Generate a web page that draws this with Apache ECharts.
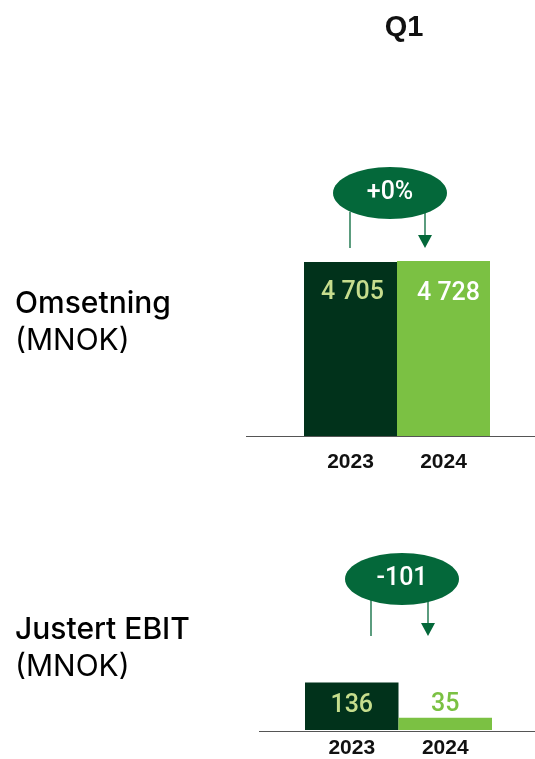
<!DOCTYPE html>
<html><head><meta charset="utf-8">
<script src="https://cdn.jsdelivr.net/npm/echarts@6/dist/echarts.min.js"></script>
<style>html,body{margin:0;padding:0;background:#fff}#c{width:535px;height:759px}</style>
</head><body><div id="c"></div>
<script>
const years = ['2023', '2024'];
const revenue = [4705, 4728];
const revenueLabels = ['4 705', '4 728'];
const ebit = [136, 35];
const ebitLabels = ['136', '35'];
const changeLabels = ['+0%', '-101'];
const panelTitles = ['Omsetning', 'Justert EBIT'];
const unitLabel = '(MNOK)';
const periodTitle = 'Q1';

const DARK = '#01321b', LIGHT = '#7bc143', PALE = '#c6dd8d', BADGE = '#04683a';
const numFont = 'Roboto, "Liberation Sans", Arial, sans-serif';
const axisFont = '"Liberation Sans", Arial, sans-serif';

const chart = echarts.init(document.getElementById('c'), null, {renderer: 'canvas'});

function items(vals, labels, labelCfg) {
  return vals.map((v, i) => ({
    value: v,
    itemStyle: {color: i === 0 ? DARK : LIGHT},
    label: Object.assign({show: true, formatter: labels[i], fontFamily: numFont, fontWeight: 500, fontSize: 25}, labelCfg[i])
  }));
}

function badge(cx, cy, text, lx, rx, y0, yEnd) {
  return [
    {type: 'line', shape: {x1: lx, y1: y0, x2: lx, y2: yEnd}, style: {stroke: BADGE, lineWidth: 1.3}},
    {type: 'line', shape: {x1: rx, y1: y0, x2: rx, y2: yEnd - 12}, style: {stroke: BADGE, lineWidth: 1.3}},
    {type: 'polygon', shape: {points: [[rx - 7, yEnd - 13], [rx + 7, yEnd - 13], [rx, yEnd]]}, style: {fill: BADGE}},
    {type: 'ellipse', shape: {cx: cx, cy: cy, rx: 57, ry: 26}, style: {fill: BADGE}},
    {type: 'text', x: cx, y: cy, style: {text: text, fill: '#fff', font: '500 25px ' + numFont, align: 'center', verticalAlign: 'middle'}}
  ];
}

const titleFont = 'Inter, "Noto Sans", sans-serif';

chart.setOption({
  animation: false,
  grid: [
    {left: 304, right: 45, top: 251, bottom: 323},
    {left: 305, right: 43, top: 660, bottom: 28}
  ],
  xAxis: [
    {type: 'category', gridIndex: 0, data: years, axisLine: {show: false}, axisTick: {show: false},
     axisLabel: {fontFamily: axisFont, fontWeight: 'bold', fontSize: 21, color: '#111', margin: 16}},
    {type: 'category', gridIndex: 1, data: years, axisLine: {show: false}, axisTick: {show: false},
     axisLabel: {fontFamily: axisFont, fontWeight: 'bold', fontSize: 21, color: '#111', margin: 8}}
  ],
  yAxis: [
    {type: 'value', gridIndex: 0, min: 0, max: 5000, show: false},
    {type: 'value', gridIndex: 1, min: 0, max: 200, show: false}
  ],
  series: [
    {type: 'bar', xAxisIndex: 0, yAxisIndex: 0, barWidth: '100%', barGap: 0,
     data: items(revenue, revenueLabels, [
       {position: 'insideTop', distance: 18, color: PALE, offset: [2, 0]},
       {position: 'insideTop', distance: 20, color: '#fff', offset: [5, 0]}
     ])},
    {type: 'bar', xAxisIndex: 1, yAxisIndex: 1, barWidth: '100%', barGap: 0,
     data: items(ebit, ebitLabels, [
       {position: 'inside', color: PALE},
       {position: 'top', distance: 1, color: LIGHT}
     ])}
  ],
  graphic: [
    {type: 'text', x: 404, y: 28, style: {text: periodTitle, font: 'bold 29px ' + axisFont, fill: '#111', align: 'center', verticalAlign: 'middle'}},
    {type: 'text', x: 15, y: 304, style: {text: panelTitles[0], font: '500 30px ' + titleFont, fill: '#000', verticalAlign: 'middle'}},
    {type: 'text', x: 15, y: 341, style: {text: unitLabel, font: '400 30px ' + titleFont, fill: '#000', verticalAlign: 'middle'}},
    {type: 'text', x: 15, y: 630, style: {text: panelTitles[1], font: '500 30px ' + titleFont, fill: '#000', verticalAlign: 'middle'}},
    {type: 'text', x: 15, y: 667, style: {text: unitLabel, font: '400 30px ' + titleFont, fill: '#000', verticalAlign: 'middle'}},
    {type: 'line', shape: {x1: 246, y1: 436.5, x2: 535, y2: 436.5}, style: {stroke: '#555', lineWidth: 1.2}, z: 10},
    {type: 'line', shape: {x1: 259, y1: 731.5, x2: 535, y2: 731.5}, style: {stroke: '#555', lineWidth: 1.2}, z: 10}
  ].concat(badge(390, 193, changeLabels[0], 350, 425, 212, 248))
   .concat(badge(402, 579, changeLabels[1], 371, 428, 598, 636))
});
</script></body></html>
